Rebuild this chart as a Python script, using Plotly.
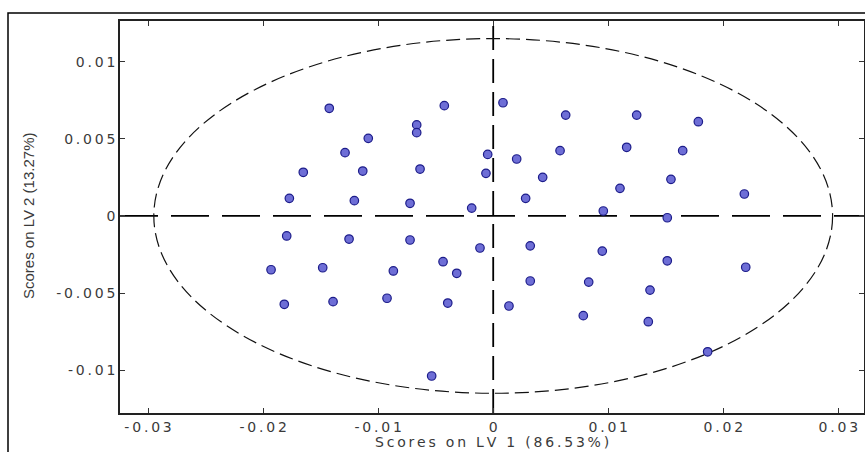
import plotly.graph_objects as go

# Scores on LV1 / LV2
lv1_scores = [-0.01425, -0.01086, -0.00665, -0.00665, -0.01288, -0.01651, -0.01134, -0.00636,
              -0.01772, -0.01207, -0.00723, -0.01795, -0.01253, -0.00723, -0.00425, 0.00085,
              0.00630, -0.00048, 0.00204, 0.00581, -0.00063, 0.00430, 0.00282, -0.00187,
              0.01247, 0.01783, 0.01160, 0.01647, 0.01545, 0.01102, 0.02183, 0.00957,
              0.01513, -0.01931, -0.01482, -0.00868, -0.01816, -0.01392, -0.00923, -0.00115,
              0.00322, -0.00436, -0.00317, 0.00322, -0.00395, 0.00137, 0.00830, 0.00783,
              -0.00535, 0.00948, 0.01513, 0.02195, 0.01363, 0.01348, 0.01864]
lv2_scores = [0.00698, 0.00503, 0.00590, 0.00540, 0.00410, 0.00283, 0.00291, 0.00304,
              0.00114, 0.00099, 0.00082, -0.00130, -0.00150, -0.00156, 0.00715, 0.00734,
              0.00654, 0.00399, 0.00369, 0.00423, 0.00276, 0.00250, 0.00114, 0.00051,
              0.00654, 0.00611, 0.00445, 0.00423, 0.00237, 0.00179, 0.00142, 0.00032,
              -0.00012, -0.00349, -0.00336, -0.00357, -0.00573, -0.00556, -0.00534, -0.00208,
              -0.00194, -0.00297, -0.00372, -0.00422, -0.00565, -0.00584, -0.00429, -0.00647,
              -0.01038, -0.00228, -0.00291, -0.00333, -0.00481, -0.00686, -0.00881]

# Confidence ellipse half-axes
ellipse_rx = 0.0295
ellipse_ry = 0.0115

x_tick_vals = [-0.03, -0.02, -0.01, 0, 0.01, 0.02, 0.03]
x_tick_text = ["-0.03", "-0.02", "-0.01", "0", "0.01", "0.02", "0.03"]
y_tick_vals = [-0.01, -0.005, 0, 0.005, 0.01]
y_tick_text = ["-0.01", "-0.005", "0", "0.005", "0.01"]
x_title = "Scores on LV 1 (86.53%)"
y_title = "Scores on LV 2 (13.27%)"


def spaced(s):
    # the reference lettering is widely tracked; imitate with thin spaces
    return "\u2009".join(s)


W, H = 865, 452
ml, mr, mt, mb = 120, 1, 21, 39
pw = W - ml - mr
ph = H - mt - mb


def px_x(p):
    return (p - ml) / pw


def px_y(p):
    return (H - mb - p) / ph


fig = go.Figure()
fig.add_trace(go.Scatter(
    x=lv1_scores, y=lv2_scores, mode="markers",
    marker=dict(size=8.5, color="#6e6ed6", line=dict(color="#1c1c8a", width=1.2)),
    showlegend=False, hoverinfo="x+y"))

shapes = [
    dict(type="circle", xref="x", yref="y", x0=-ellipse_rx, x1=ellipse_rx,
         y0=-ellipse_ry, y1=ellipse_ry, line=dict(color="#111", width=1.2, dash="14px,6px"),
         layer="below"),
    dict(type="line", xref="paper", yref="y", x0=0, x1=1, y0=0, y1=0,
         line=dict(color="#000", width=1.8, dash="38px,13px"), layer="below"),
    dict(type="line", xref="x", yref="paper", x0=0, x1=0, y0=0, y1=1,
         line=dict(color="#000", width=1.8, dash="24px,9px"), layer="below"),
    dict(type="rect", xref="paper", yref="paper",
         x0=px_x(8), x1=px_x(W + 10), y0=px_y(H + 10), y1=px_y(13),
         line=dict(color="#000", width=1.5), fillcolor="rgba(0,0,0,0)"),
]

tick_font = dict(family="DejaVu Sans, sans-serif", size=14, color="#3a3a3a")

fig.update_layout(
    width=W, height=H,
    margin=dict(l=ml, r=mr, t=mt, b=mb),
    paper_bgcolor="white", plot_bgcolor="white",
    shapes=shapes,
    xaxis=dict(range=[-0.03244, 0.03223], tickvals=x_tick_vals,
               ticktext=[spaced(t) for t in x_tick_text],
               ticks="inside", ticklen=5, tickcolor="#333", showgrid=False, zeroline=False,
               showline=True, linecolor="#222", linewidth=1.6, mirror="ticks",
               tickfont=tick_font, automargin=False),
    yaxis=dict(range=[-0.01278, 0.01264], tickvals=y_tick_vals,
               ticktext=[spaced(t) for t in y_tick_text],
               ticks="inside", ticklen=5, tickcolor="#333", showgrid=False, zeroline=False,
               showline=True, linecolor="#222", linewidth=1.6, mirror="ticks",
               tickfont=tick_font, automargin=False),
    annotations=[
        dict(text=spaced(x_title), xref="paper", yref="paper", x=px_x(492), y=px_y(442),
             xanchor="center", yanchor="middle", showarrow=False,
             font=dict(family="DejaVu Sans, sans-serif", size=14, color="#3a3a3a")),
        dict(text=y_title, xref="paper", yref="paper", x=px_x(28), y=px_y(216),
             xanchor="center", yanchor="middle", showarrow=False, textangle=-90,
             font=dict(family="Liberation Sans, Arial, sans-serif", size=15, color="#3a3a3a")),
    ],
)

fig.write_html("out.html", config={"displayModeBar": False},
               post_script="document.body.style.margin='0px';document.body.style.overflow='hidden';")
